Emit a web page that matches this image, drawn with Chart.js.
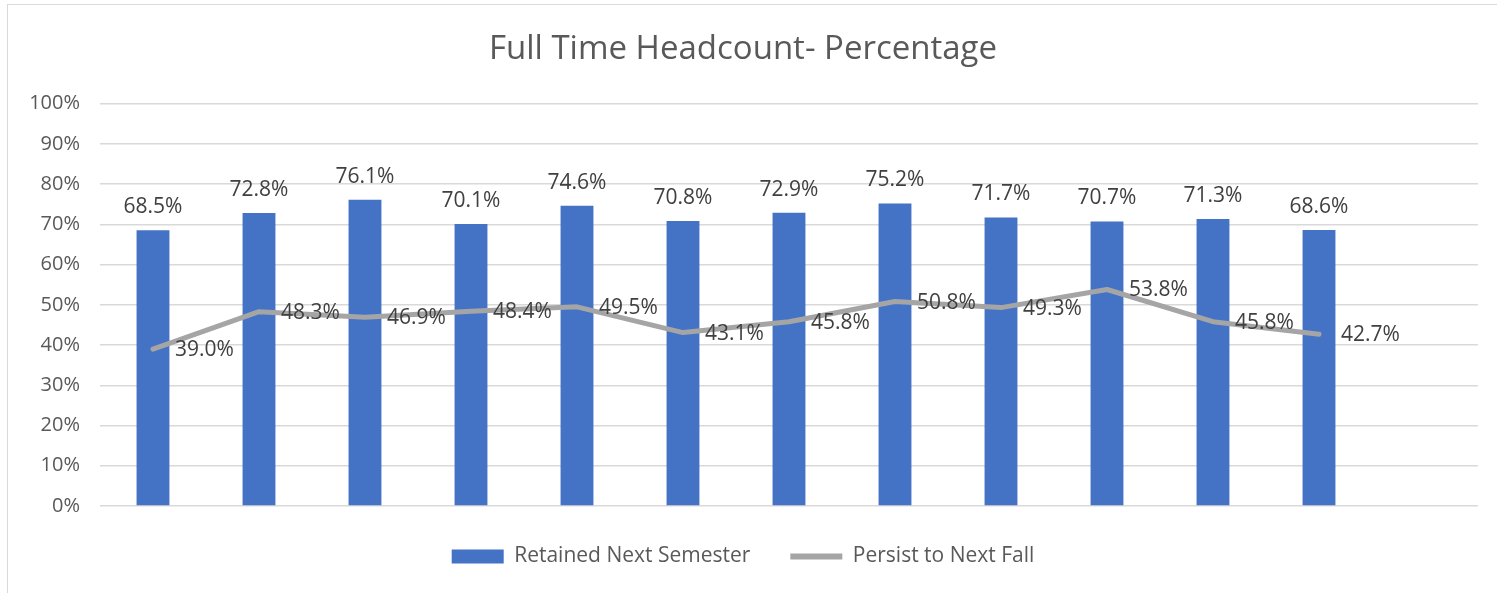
<!DOCTYPE html>
<html lang="en">
<head>
  <meta charset="UTF-8">
  <title>Full Time Headcount- Percentage</title>
  <script src="https://cdn.jsdelivr.net/npm/chart.js"></script>
  <style>
    body {
      margin: 0;
      background: #fff;
      overflow: hidden;
    }
    .frame {
      position: absolute;
      left: 7px;
      top: 4px;
      width: 1500px;
      height: 600px;
      border: 1px solid #d9d9d9;
    }
    .wrap {
      position: relative;
      width: 1497px;
      height: 593px;
    }
  </style>
</head>
<body>
  <div class="frame"></div>
  <div class="wrap">
    <canvas id="headcountChart"></canvas>
  </div>

  <script>
    // one slot per term (labels hidden); the 13th slot is empty in the original
    const categories = ['1', '2', '3', '4', '5', '6', '7', '8', '9', '10', '11', '12', ''];
    const retainedNextSemester = [68.5, 72.8, 76.1, 70.1, 74.6, 70.8, 72.9, 75.2, 71.7, 70.7, 71.3, 68.6];
    const persistToNextFall = [39.0, 48.3, 46.9, 48.4, 49.5, 43.1, 45.8, 50.8, 49.3, 53.8, 45.8, 42.7];
    const yTicks = [0, 10, 20, 30, 40, 50, 60, 70, 80, 90, 100];

    const FONT = "'Open Sans', 'Noto Sans', sans-serif";

    // draws the % labels: above bars, to the right of line points
    const valueLabels = {
      id: 'valueLabels',
      afterDatasetsDraw(chart) {
        const ctx = chart.ctx;
        ctx.save();
        ctx.font = "21px " + FONT;
        ctx.fillStyle = '#404040';
        ctx.textBaseline = 'middle';

        chart.getDatasetMeta(0).data.forEach((bar, i) => {
          if (retainedNextSemester[i] == null) return;
          ctx.textAlign = 'center';
          ctx.fillText(retainedNextSemester[i].toFixed(1) + '%', bar.x, bar.y - 23);
        });
        chart.getDatasetMeta(1).data.forEach((pt, i) => {
          if (persistToNextFall[i] == null) return;
          ctx.textAlign = 'left';
          ctx.fillText(persistToNextFall[i].toFixed(1) + '%', pt.x + 22, pt.y + 1);
        });
        ctx.restore();
      }
    };

    const ctx = document.getElementById('headcountChart').getContext('2d');
    new Chart(ctx, {
      data: {
        labels: categories,
        datasets: [
          {
            type: 'bar',
            label: 'Retained Next Semester',
            data: retainedNextSemester,
            backgroundColor: '#4472C4',
            borderWidth: 0,
            categoryPercentage: 1,
            barPercentage: 0.31,
            order: 1
          },
          {
            type: 'line',
            label: 'Persist to Next Fall',
            data: persistToNextFall,
            borderColor: '#A5A5A5',
            backgroundColor: '#A5A5A5',
            borderWidth: 5,
            borderCapStyle: 'round',
            borderJoinStyle: 'round',
            pointRadius: 0,
            tension: 0,
            order: 0
          }
        ]
      },
      options: {
        responsive: true,
        maintainAspectRatio: false,
        animation: false,
        layout: {
          padding: { left: 8, right: 19, top: 5, bottom: 16 }
        },
        plugins: {
          title: {
            display: true,
            text: 'Full Time Headcount- Percentage',
            color: '#595959',
            font: { family: FONT, size: 33, weight: 'normal' },
            padding: { top: 25, bottom: 34 }
          },
          legend: {
            position: 'bottom',
            labels: {
              color: '#595959',
              font: { family: FONT, size: 21 },
              usePointStyle: true,
              pointStyleWidth: 52,
              boxHeight: 14,
              padding: 40,
              generateLabels(chart) {
                const items = Chart.defaults.plugins.legend.labels.generateLabels(chart);
                items.sort((a, b) => a.datasetIndex - b.datasetIndex);
                items.forEach(item => {
                  if (item.datasetIndex === 0) {
                    item.pointStyle = 'rect';
                    item.lineWidth = 0;
                  } else {
                    item.pointStyle = 'line';
                    item.lineWidth = 6;
                    item.strokeStyle = '#A5A5A5';
                  }
                });
                return items;
              }
            }
          },
          tooltip: { enabled: false }
        },
        scales: {
          x: {
            display: false,
            grid: { display: false }
          },
          y: {
            min: 0,
            max: 100,
            afterFit(scale) { scale.width = 92; },
            afterBuildTicks(scale) {
              scale.ticks = yTicks.map(v => ({ value: v }));
            },
            border: { display: false },
            grid: {
              color: '#d9d9d9',
              lineWidth: 1.5,
              drawTicks: false
            },
            ticks: {
              color: '#595959',
              font: { family: FONT, size: 20 },
              padding: 20,
              callback: v => v + '%'
            }
          }
        }
      },
      plugins: [valueLabels]
    });
  </script>
</body>
</html>
